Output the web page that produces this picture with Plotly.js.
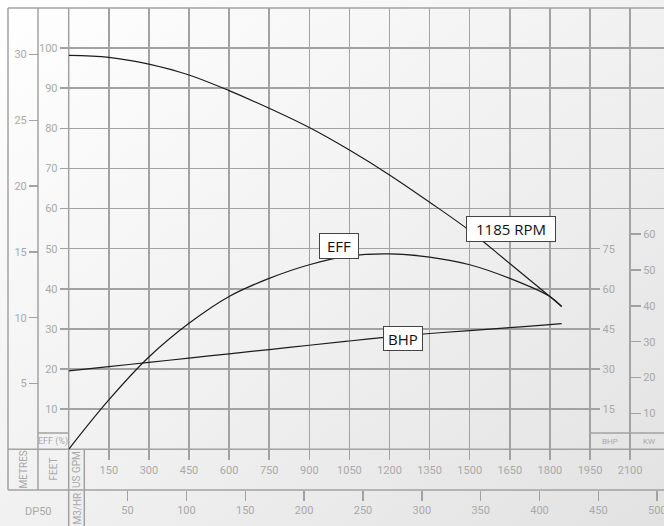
<!DOCTYPE html>
<html><head><meta charset="utf-8">
<script src="https://cdn.plot.ly/plotly-3.0.1.min.js"></script>
<style>
html,body{margin:0;padding:0;background:#fff;}
#chart{width:664px;height:526px;background:linear-gradient(to bottom right,#ffffff 0%,#f1f1f1 50%,#e2e2e2 100%);}
</style></head><body><div id="chart"></div>
<script>
// ---- data ----
const flowGPM  = [0,150,300,450,600,750,900,1050,1200,1350,1500,1650,1800,1844];
const headFeet = [98.2,97.7,96.0,93.3,89.4,85.0,80.2,74.6,68.4,61.6,54.5,46.3,38.1,35.6];
const effPct   = [0,12.3,23.0,31.4,38.1,42.6,46.0,48.2,48.7,47.9,46.0,42.6,38.1,35.6];
const bhpVals  = [29.3,30.9,32.5,34.1,35.7,37.3,38.9,40.5,42.0,43.3,44.4,45.5,46.6,47.0];

const gpmTicks   = [150,300,450,600,750,900,1050,1200,1350,1500,1650,1800,1950,2100];
const m3hrTicks  = [50,100,150,200,250,300,350,400,450,500];
const feetTicks  = [10,20,30,40,50,60,70,80,90,100];
const metreTicks = [5,10,15,20,25,30];
const bhpTicks   = [15,30,45,60,75];
const kwTicks    = [10,20,30,40,50,60];

const curveLabels = ['EFF','BHP','1185 RPM'];
const sideLabels  = ['METRES','FEET','US GPM','M3/HR','EFF (%)','BHP','KW','DP50'];

// ---- geometry helpers (pixel -> paper) ----
const W = 664, H = 526, ML = 8, MT = 8;
const PW = W - ML, PH = H - MT;
const px = x => (x - ML) / PW;
const py = y => (H - y) / PH;

const xL = 68.7, xR = 664, yB = 449.3, yT = 8;
const GPM_MAX = 2226.8, FEET_MAX = 110;
const domX = [px(xL), 1];
const domY = [py(yB), 1];
const splitY = py(449.3 - 55 * (441.3 / 110));

const gridC = '#a2a2a2', gw = 1.5, labC = '#a9a9a9';
const tf = {family:'Roboto, "Open Sans", sans-serif', size:11, color:labC};

const line = (x0,y0,x1,y1) => ({type:'line', xref:'paper', yref:'paper', x0:px(x0), y0:py(y0), x1:px(x1), y1:py(y1), line:{color:gridC, width:gw}, layer:'below'});

const ln = {color:'#1c1c1c', width:1.2, shape:'spline', smoothing:1};
const data = [
  {x:[], y:[], xaxis:'x', yaxis:'y', showlegend:false},
  {x:[], y:[], xaxis:'x2', yaxis:'y2', showlegend:false},
  {x:flowGPM, y:headFeet, xaxis:'x3', yaxis:'y3', mode:'lines', line:ln, name:'1185 RPM'},
  {x:flowGPM, y:effPct,  xaxis:'x3', yaxis:'y3', mode:'lines', line:ln, name:'EFF'},
  {x:flowGPM, y:bhpVals, xaxis:'x3', yaxis:'y4', mode:'lines', line:ln, name:'BHP'},
  {x:[], y:[], xaxis:'x3', yaxis:'y5', showlegend:false},
  {x:[], y:[], xaxis:'x3', yaxis:'y6', showlegend:false},
  {x:[], y:[], xaxis:'x4', yaxis:'y3', showlegend:false}
];

const hidden = {visible:false, fixedrange:true};
const layout = {
  width:W, height:H, margin:{l:ML, r:0, t:MT, b:0, pad:0},
  paper_bgcolor:'rgba(0,0,0,0)', plot_bgcolor:'rgba(0,0,0,0)',
  showlegend:false, hovermode:false,
  // grid-only subplots
  xaxis: Object.assign({domain:domX, range:[0,GPM_MAX], anchor:'y'}, hidden),
  yaxis: {domain:[splitY,1], range:[55,FEET_MAX], anchor:'x', dtick:10, tick0:0, showgrid:true, gridcolor:gridC, gridwidth:gw, showticklabels:false, ticks:'', zeroline:false, showline:false},
  xaxis2: Object.assign({domain:[px(xL), px(589.3)], range:[0,1950], anchor:'y2'}, hidden),
  yaxis2: {domain:[domY[0], splitY], range:[0,55], anchor:'x2', dtick:10, tick0:0, showgrid:true, gridcolor:gridC, gridwidth:gw, showticklabels:false, ticks:'', zeroline:false, showline:false},
  // main axes
  xaxis3: {domain:domX, range:[0,GPM_MAX], anchor:'y3', tickvals:gpmTicks, showgrid:true, gridcolor:gridC, gridwidth:gw,
           ticks:'outside', ticklen:10, tickcolor:gridC, tickwidth:gw, tickfont:tf, zeroline:false, showline:false, ticklabeloverflow:'allow'},
  yaxis3: {domain:domY, range:[0,FEET_MAX], anchor:'x3', tickvals:feetTicks, showgrid:false,
           ticks:'outside', ticklen:8, tickcolor:gridC, tickwidth:gw, tickfont:tf, zeroline:false, showline:false},
  yaxis4: {overlaying:'y3', anchor:'free', position:px(589.3), side:'right', range:[0,165], tickvals:bhpTicks, showgrid:false,
           ticks:'outside', ticklen:10, tickcolor:gridC, tickwidth:gw, tickfont:tf, zeroline:false, showline:false},
  yaxis5: {overlaying:'y3', anchor:'free', position:px(38), side:'left', range:[0,33.528], tickvals:metreTicks, showgrid:false,
           ticks:'outside', ticklen:9, tickcolor:gridC, tickwidth:gw, tickfont:tf, zeroline:false, showline:false},
  yaxis6: {overlaying:'y3', anchor:'free', position:px(630), side:'right', range:[0,123.04], tickvals:kwTicks, showgrid:false,
           ticks:'outside', ticklen:10, tickcolor:gridC, tickwidth:gw, tickfont:tf, zeroline:false, showline:false},
  xaxis4: {overlaying:'x3', anchor:'free', position:py(490), side:'bottom', range:[0,505.76], tickvals:m3hrTicks, showgrid:false,
           ticks:'outside', ticklen:10, tickcolor:gridC, tickwidth:gw, tickfont:tf, zeroline:false, showline:false, ticklabeloverflow:'allow'},
  shapes: [
    line(8,8,664,8),
    line(8,8,8,490),
    line(38,8,38,490),
    line(68.7,8,68.7,526),
    line(84.3,449.3,84.3,526),
    line(8,449.3,664,449.3),
    line(8,490,664,490),
    line(38,433,68.7,433),
    line(589.3,433,664,433)
  ],
  annotations: []
};

const boxFont = {family:'"Open Sans", "Noto Sans", sans-serif', size:15, color:'#111'};
const box = (t, x, y, w, h) => ({text:t, xref:'x3', yref:'y3', x:x, y:y, xanchor:'center', yanchor:'middle', showarrow:false,
  bgcolor:'#ffffff', bordercolor:'#444', borderwidth:1, borderpad:1, width:w, height:h, font:boxFont});
layout.annotations.push(box(curveLabels[0], 1011, 50.7, 36, 22));
layout.annotations.push(box(curveLabels[1], 1251, 27.6, 36, 21));
layout.annotations.push(box(curveLabels[2], 1655, 54.9, 86, 22));

const side = (t, x, y, size, ang) => ({text:t, xref:'paper', yref:'paper', x:px(x), y:py(y), xanchor:'center', yanchor:'middle',
  showarrow:false, textangle:ang, font:{family:'Roboto, "Open Sans", sans-serif', size:size, color:labC}});
layout.annotations.push(side(sideLabels[0], 23, 469.5, 10, -90));
layout.annotations.push(side(sideLabels[1], 53, 469.5, 10, -90));
layout.annotations.push(side(sideLabels[2], 76.5, 469.5, 10, -90));
layout.annotations.push(side(sideLabels[3], 76.5, 509, 10, -90));
layout.annotations.push(side(sideLabels[4], 53.3, 441.5, 9, 0));
layout.annotations.push(side(sideLabels[5], 609.5, 441.5, 8, 0));
layout.annotations.push(side(sideLabels[6], 649, 441.5, 8, 0));
layout.annotations.push(side(sideLabels[7], 38, 511, 11, 0));

Plotly.newPlot('chart', data, layout, {staticPlot:true, displayModeBar:false});
</script></body></html>
